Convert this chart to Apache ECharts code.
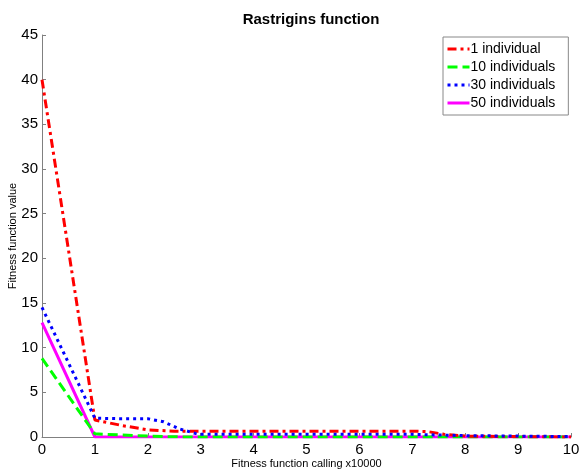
<!DOCTYPE html>
<html><head><meta charset="utf-8">
<script src="https://cdn.jsdelivr.net/npm/echarts@6/dist/echarts.min.js"></script>
<style>html,body{margin:0;padding:0;background:#fff}#c{width:579px;height:473px}</style>
</head><body><div id="c"></div>
<script>
const seriesNames = ['1 individual', '10 individuals', '30 individuals', '50 individuals'];
const xRed = [0, 1, 1.5, 2, 2.5, 3, 4, 5, 6, 7, 7.3, 7.6, 8, 9, 10];
const yRed = [40, 1.9, 1.3, 0.8, 0.65, 0.65, 0.65, 0.65, 0.65, 0.65, 0.6, 0.3, 0.1, 0.05, 0];
const xGreen = [0, 1, 2, 2.5, 3, 4, 5, 6, 7, 8, 9, 10];
const yGreen = [8.8, 0.35, 0.1, 0.02, 0, 0, 0, 0, 0, 0, 0, 0];
const xBlue = [0, 1, 1.5, 2, 2.3, 2.6, 2.9, 3, 4, 5, 6, 7, 8, 9, 10];
const yBlue = [14.5, 2.1, 2.05, 2.05, 1.7, 0.9, 0.4, 0.3, 0.3, 0.3, 0.3, 0.3, 0.15, 0.1, 0.05];
const xMag = [0, 1, 2, 3, 4, 5, 6, 7, 8, 9, 10];
const yMag = [12.8, 0, 0, 0, 0, 0, 0, 0, 0, 0, 0];

const pairs = (xs, ys) => xs.map((x, i) => [x, ys[i]]);
const chart = echarts.init(document.getElementById('c'));
const font = 'Liberation Sans, Arial, sans-serif';
const axisCol = '#808080';
chart.setOption({
  animation: false,
  backgroundColor: '#fff',
  title: {
    text: 'Rastrigins function', left: 306, top: 7, textAlign: 'center',
    textStyle: {fontFamily: font, fontSize: 15, fontWeight: 'bold', color: '#000'}
  },
  legend: {
    orient: 'vertical', left: 443, top: 37, width: 126,
    padding: [5, 13, 5, 3], itemGap: 4, itemWidth: 22, itemHeight: 14,
    borderColor: '#888', borderWidth: 1, backgroundColor: '#fff',
    itemStyle: {opacity: 0},
    lineStyle: {width: 3},
    textStyle: {fontFamily: font, fontSize: 14, color: '#000', padding: [0, 0, 0, -4]},
    data: seriesNames
  },
  grid: {left: 42, right: 8, top: 35, bottom: 36, containLabel: false, outerBoundsMode: 'none'},
  xAxis: {
    type: 'value', min: 0, max: 10, interval: 1,
    name: 'Fitness function calling x10000', nameLocation: 'middle', nameGap: 21,
    nameMoveOverlap: false,
    nameTextStyle: {fontFamily: font, fontSize: 11, color: '#000'},
    axisLine: {lineStyle: {color: axisCol, width: 1}},
    axisTick: {inside: true, length: 4, lineStyle: {color: axisCol}},
    axisLabel: {fontFamily: font, fontSize: 15, color: '#000', margin: 5},
    splitLine: {show: false}
  },
  yAxis: {
    type: 'value', min: 0, max: 45, interval: 5,
    name: 'Fitness function value', nameLocation: 'middle', nameGap: 24,
    nameMoveOverlap: false,
    nameTextStyle: {fontFamily: font, fontSize: 11, color: '#000'},
    axisLine: {show: true, lineStyle: {color: axisCol, width: 1}},
    axisTick: {show: true, inside: true, length: 4, lineStyle: {color: axisCol}},
    axisLabel: {fontFamily: font, fontSize: 15, color: '#000', margin: 4},
    splitLine: {show: false}
  },
  series: [
    {name: seriesNames[0], type: 'line', symbol: 'none', data: pairs(xRed, yRed), z: 4,
     lineStyle: {color: '#ff0000', width: 3, type: [9, 4, 3, 4]}, itemStyle: {color: '#ff0000'}},
    {name: seriesNames[1], type: 'line', symbol: 'none', data: pairs(xGreen, yGreen), z: 3,
     lineStyle: {color: '#00ff00', width: 3, type: [10, 5]}, itemStyle: {color: '#00ff00'}},
    {name: seriesNames[2], type: 'line', symbol: 'none', data: pairs(xBlue, yBlue), z: 5,
     lineStyle: {color: '#0000ff', width: 3, type: [3, 4]}, itemStyle: {color: '#0000ff'}},
    {name: seriesNames[3], type: 'line', symbol: 'none', data: pairs(xMag, yMag), z: 2,
     lineStyle: {color: '#ff00ff', width: 3, type: 'solid'}, itemStyle: {color: '#ff00ff'}}
  ]
});
</script></body></html>
